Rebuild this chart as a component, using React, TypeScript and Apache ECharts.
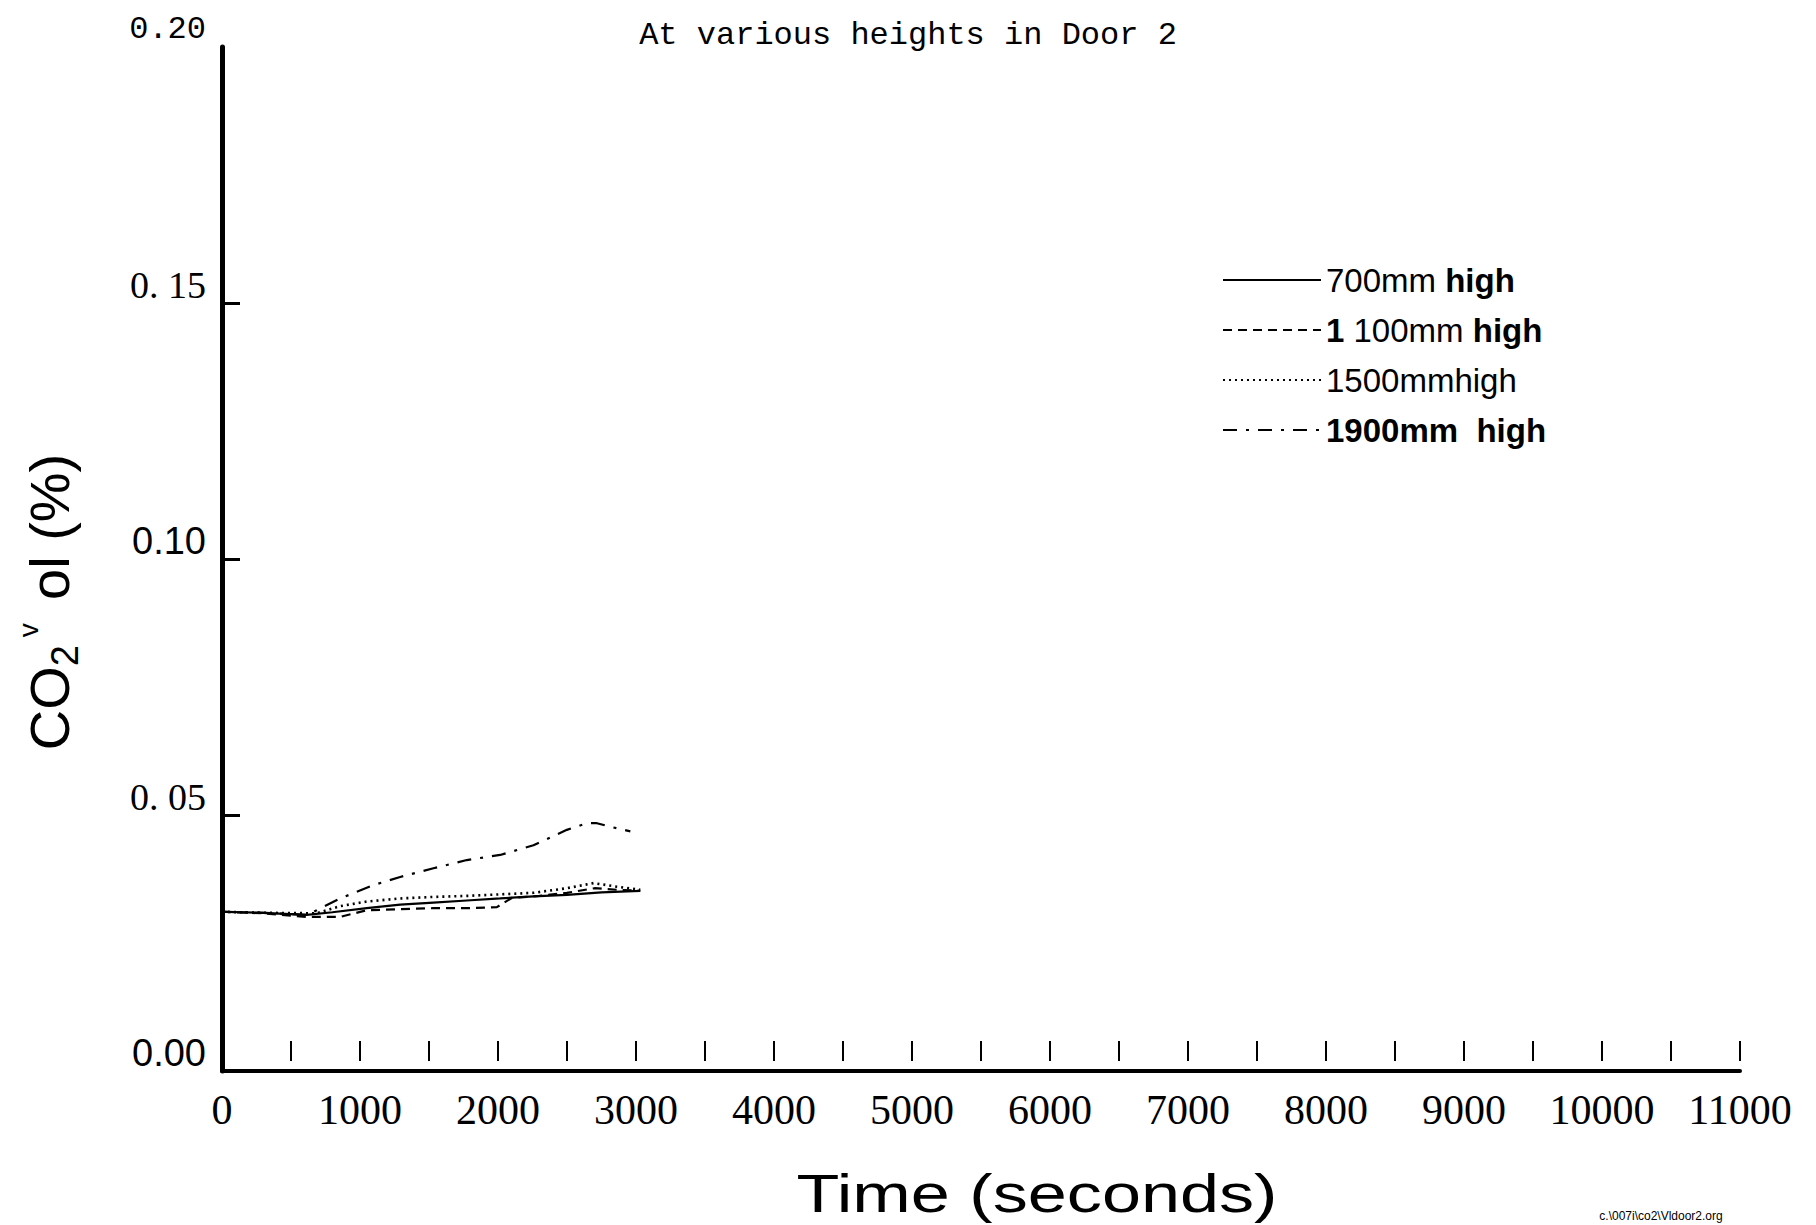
import React, { useEffect, useRef } from "react";
import * as echarts from "echarts";

// ---- data ----
const seriesNames = ["700mm high", "1 100mm high", "1500mmhigh", "1900mm  high"];

const t700 = [0, 300, 614, 800, 1049, 1291, 1532, 1774, 2016, 2257, 2499, 2750, 3031];
const v700 = [0.0311, 0.0309, 0.0305, 0.031, 0.0318, 0.0325, 0.0329, 0.0333, 0.0337, 0.0341, 0.0344, 0.0349, 0.0352];

const t1100 = [0, 300, 614, 856, 1049, 1291, 1532, 1774, 1992, 2100, 2300, 2499, 2700, 2862, 3031];
const v1100 = [0.0311, 0.0308, 0.0301, 0.0301, 0.0314, 0.0316, 0.0318, 0.0318, 0.032, 0.0338, 0.0342, 0.0348, 0.0357, 0.0354, 0.0352];

const t1500 = [0, 300, 686, 856, 1049, 1291, 1532, 1774, 2016, 2257, 2499, 2693, 2862, 3031];
const v1500 = [0.0311, 0.0309, 0.0308, 0.0322, 0.0331, 0.0337, 0.034, 0.0342, 0.0345, 0.0348, 0.0357, 0.0367, 0.036, 0.0354];

const t1900 = [0, 300, 614, 686, 856, 1097, 1291, 1532, 1774, 2016, 2257, 2499, 2645, 2717, 2814, 2959];
const v1900 = [0.0311, 0.0309, 0.0305, 0.0314, 0.0337, 0.0363, 0.0379, 0.0396, 0.0412, 0.0422, 0.0441, 0.0471, 0.0484, 0.0484, 0.0477, 0.0468];

const yTickLabels = ["{sans|0.00}", "{serif|0. 05}", "{sans|0.10}", "{serif|0. 15}", "{mono|0.20}"];
const yTickMarks = [0.05, 0.1, 0.15];
const legendLabels: Record<string, string> = {
  "700mm high": "{r|700mm }{b|high}",
  "1 100mm high": "{b|1}{r| 100mm }{b|high}",
  "1500mmhigh": "{r|1500mmhigh}",
  "1900mm  high": "{b|1900mm  high}",
};
const titleText = "At various heights in Door 2";
const xName = "Time (seconds)";
const footnote = "c.\\007i\\co2\\Vldoor2.org";

const pairs = (t: number[], v: number[]) => t.map((x, i) => [x, v[i]]);

export default function App() {
  const ref = useRef<HTMLDivElement>(null);
  useEffect(() => {
    document.body.style.margin = "0";
    const chart = echarts.init(ref.current!, null, { renderer: "svg" });
    const lineBase = { color: "#000", width: 2.2 };
    chart.setOption({
      animation: false,
      backgroundColor: "#fff",
      color: ["#000", "#000", "#000", "#000"],
      title: {
        text: titleText,
        left: "center",
        top: 14,
        textStyle: { fontFamily: "Liberation Mono", fontSize: 32, fontWeight: "normal", color: "#000" },
      },
      grid: { left: 222, right: 76, top: 47, bottom: 154, containLabel: false },
      legend: {
        data: seriesNames,
        orient: "vertical",
        left: 1217,
        top: 255,
        itemWidth: 98,
        itemHeight: 14,
        itemGap: 10,
        itemStyle: { opacity: 0 },
        formatter: (n: string) => legendLabels[n] ?? n,
        textStyle: {
          color: "#000",
          fontSize: 33,
          lineHeight: 40,
          rich: {
            r: { fontFamily: "Liberation Sans", fontSize: 33, fontWeight: "normal", color: "#000", lineHeight: 40 },
            b: { fontFamily: "Liberation Sans", fontSize: 33, fontWeight: "bold", color: "#000", lineHeight: 40 },
          },
        },
      },
      xAxis: [
        {
          type: "value",
          position: "bottom",
          min: 0,
          max: 11000,
          interval: 1000,
          axisLine: { show: true, onZero: false, lineStyle: { color: "#000", width: 4 } },
          axisTick: { show: false },
          splitLine: { show: false },
          axisLabel: {
            fontFamily: "Liberation Serif",
            fontSize: 42,
            color: "#000",
            margin: 18,
            formatter: (v: number) => String(v),
          },
        },
        {
          type: "value",
          position: "bottom",
          min: 0,
          max: 11000,
          interval: 500,
          offset: -10,
          axisLine: { show: false, onZero: false },
          axisTick: { show: true, inside: true, length: 20, lineStyle: { color: "#000", width: 2 } },
          splitLine: { show: false },
          axisLabel: { show: false },
        },
      ],
      yAxis: {
        type: "value",
        min: 0,
        max: 0.2,
        interval: 0.05,
        axisLine: { show: true, onZero: false, lineStyle: { color: "#000", width: 5 } },
        axisTick: { show: true, inside: true, length: 18, customValues: yTickMarks, lineStyle: { color: "#000", width: 3 } },
        splitLine: { show: false },
        axisLabel: {
          margin: 16,
          verticalAlign: "bottom",
          formatter: (v: number) => yTickLabels[Math.round(v / 0.05)] ?? "",
          rich: {
            sans: { fontFamily: "Liberation Sans", fontSize: 38, color: "#000", lineHeight: 36 },
            serif: { fontFamily: "Liberation Serif", fontSize: 38, color: "#000", lineHeight: 36 },
            mono: { fontFamily: "Liberation Mono", fontSize: 32, color: "#000", lineHeight: 36 },
          },
        },
      },
      series: [
        { name: seriesNames[0], type: "line", symbol: "none", data: pairs(t700, v700), itemStyle: { color: "#000" }, lineStyle: { ...lineBase, type: "solid" } },
        { name: seriesNames[1], type: "line", symbol: "none", data: pairs(t1100, v1100), itemStyle: { color: "#000" }, lineStyle: { ...lineBase, type: [9, 6] } },
        { name: seriesNames[2], type: "line", symbol: "none", data: pairs(t1500, v1500), itemStyle: { color: "#000" }, lineStyle: { ...lineBase, width: 2.6, type: [2, 4] } },
        { name: seriesNames[3], type: "line", symbol: "none", data: pairs(t1900, v1900), itemStyle: { color: "#000" }, lineStyle: { ...lineBase, type: [14, 9, 3, 9] } },
      ],
      graphic: [
        {
          type: "text",
          x: 49,
          y: 602,
          rotation: Math.PI / 2,
          style: {
            text: "{m|CO}{sub|2}{sup| v }{m| ol (%)}",
            textAlign: "center",
            textVerticalAlign: "middle",
            fill: "#000",
            rich: {
              m: { fontFamily: "Liberation Sans", fontSize: 56, lineHeight: 70, verticalAlign: "middle", fill: "#000" },
              sub: { fontFamily: "Liberation Sans", fontSize: 38, lineHeight: 70, verticalAlign: "bottom", fill: "#000" },
              sup: { fontFamily: "Liberation Sans", fontSize: 28, lineHeight: 70, verticalAlign: "top", fill: "#000" },
            },
          },
        },
        {
          type: "text",
          x: 1037,
          y: 1193,
          scaleX: 1.3,
          style: {
            text: xName,
            font: '54px "Liberation Sans"',
            textAlign: "center",
            textVerticalAlign: "middle",
            fill: "#000",
          },
        },
        {
          type: "text",
          x: 1661,
          y: 1216,
          style: {
            text: footnote,
            font: '12px "Liberation Sans"',
            textAlign: "center",
            textVerticalAlign: "middle",
            fill: "#000",
          },
        },
      ],
    });
    return () => chart.dispose();
  }, []);
  return <div ref={ref} style={{ width: 1816, height: 1225 }} />;
}
